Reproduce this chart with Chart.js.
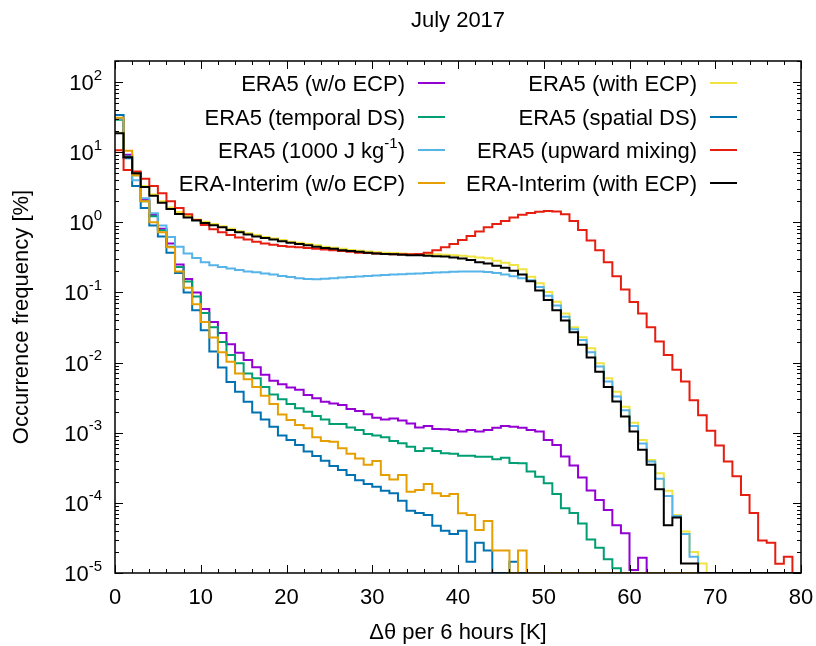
<!DOCTYPE html>
<html>
<head>
<meta charset="utf-8">
<title>July 2017</title>
<script src="https://cdn.jsdelivr.net/npm/chart.js@4.4.1/dist/chart.umd.min.js"></script>
<style>
    html, body { margin: 0; padding: 0; background: #fff; }
    #wrap { width: 816px; height: 646px; }
</style>
</head>
<body>
<div id="wrap"><canvas id="chart" width="816" height="646"></canvas></div>
<script>
// Histogram of potential temperature change, 1 K bins from 0 to 80 K.
const BIN_WIDTH = 1;
const BIN_COUNT = 80;
const binEdges = Array.from({ length: BIN_COUNT + 1 }, (_, i) => i * BIN_WIDTH);

const Y_MIN = 1e-5;
const Y_MAX = 200;
const xTickLabels = ['0', '10', '20', '30', '40', '50', '60', '70', '80'];
const yTickExponents = ['-5', '-4', '-3', '-2', '-1', '0', '1', '2'];

// occurrence frequency [%] per bin, zero where nothing was counted
const era5NoEcp = [
    30, 9.2, 4.8, 2.1, 1.27, 0.81, 0.50, 0.25, 0.156, 0.10,
    0.058, 0.038, 0.0265, 0.0183, 0.0138, 0.0109, 0.0086, 0.0067, 0.0055, 0.0049,
    0.0044, 0.0041, 0.00345, 0.0031, 0.00277, 0.00262, 0.00248, 0.00218, 0.00204, 0.00183,
    0.00164, 0.00155, 0.0016, 0.00149, 0.00136, 0.00119, 0.00125, 0.00113, 0.00112, 0.00109,
    0.00104, 0.00109, 0.00104, 0.00109, 0.00118, 0.00125, 0.00122, 0.00118, 0.00109, 0.00104,
    7.9e-4, 6.7e-4, 4.6e-4, 3.4e-4, 2.3e-4, 1.5e-4, 1.1e-4, 7.9e-5, 4.8e-5, 3.7e-5,
    1.1e-5, 1.65e-5, 0, 0, 0, 0, 0, 0, 0, 0,
    0, 0, 0, 0, 0, 0, 0, 0, 0, 0
];
const era5WithEcp = [
    19, 8.3, 5.0, 3.3, 2.5, 2.0, 1.63, 1.4, 1.23, 1.1,
    1.02, 0.95, 0.88, 0.81, 0.75, 0.70, 0.66, 0.62, 0.59, 0.56,
    0.53, 0.51, 0.49, 0.47, 0.45, 0.435, 0.42, 0.405, 0.395, 0.385,
    0.375, 0.37, 0.365, 0.36, 0.355, 0.355, 0.35, 0.35, 0.345, 0.34,
    0.335, 0.325, 0.315, 0.307, 0.284, 0.265, 0.246, 0.214, 0.168, 0.135,
    0.102, 0.074, 0.050, 0.032, 0.023, 0.016, 0.0098, 0.0060, 0.00385, 0.00235,
    0.00139, 7.9e-4, 4.1e-4, 2.64e-4, 1.49e-4, 6.7e-5, 3.9e-5, 2.0e-5, 1.37e-5, 0,
    0, 0, 0, 0, 0, 0, 0, 0, 0, 0
];
const era5TemporalDs = [
    29, 8.7, 4.7, 2.0, 1.22, 0.77, 0.45, 0.23, 0.144, 0.088,
    0.051, 0.032, 0.0197, 0.0128, 0.0098, 0.0070, 0.0060, 0.0045, 0.0035, 0.0030,
    0.00257, 0.00223, 0.0020, 0.00173, 0.00155, 0.00133, 0.00133, 0.00119, 0.00109, 9.6e-4,
    9.1e-4, 8.6e-4, 7.6e-4, 7.1e-4, 6.3e-4, 5.5e-4, 6.0e-4, 5.5e-4, 5.1e-4, 5.0e-4,
    4.7e-4, 4.7e-4, 4.55e-4, 4.55e-4, 4.2e-4, 4.4e-4, 3.7e-4, 3.66e-4, 2.8e-4, 2.36e-4,
    1.9e-4, 1.34e-4, 8.4e-5, 7.2e-5, 5.1e-5, 3.0e-5, 2.3e-5, 1.57e-5, 1.17e-5, 0,
    0, 0, 0, 0, 0, 0, 0, 0, 0, 0,
    0, 0, 0, 0, 0, 0, 0, 0, 0, 0
];
const era5SpatialDs = [
    34, 8.2, 3.3, 1.6, 0.9, 0.63, 0.37, 0.19, 0.10, 0.056,
    0.029, 0.0144, 0.0085, 0.0053, 0.00385, 0.00277, 0.00195, 0.00155, 0.00122, 9.1e-4,
    7.9e-4, 6.7e-4, 5.4e-4, 4.66e-4, 4.0e-4, 3.36e-4, 2.94e-4, 2.5e-4, 2.1e-4, 1.86e-4,
    1.7e-4, 1.49e-4, 1.37e-4, 1.07e-4, 7.7e-5, 7.2e-5, 6.7e-5, 4.7e-5, 4.0e-5, 3.6e-5,
    4.0e-5, 1.45e-5, 2.7e-5, 2.1e-5, 0, 0, 1.45e-5, 0, 0, 0,
    0, 0, 0, 0, 0, 0, 0, 0, 0, 0,
    0, 0, 0, 0, 0, 0, 0, 0, 0, 0,
    0, 0, 0, 0, 0, 0, 0, 0, 0, 0
];
const era5Cape1000 = [
    30, 8.5, 4.0, 2.2, 1.35, 0.9, 0.62, 0.45, 0.36, 0.31,
    0.27, 0.245, 0.23, 0.22, 0.21, 0.2, 0.195, 0.187, 0.18, 0.172,
    0.166, 0.16, 0.156, 0.155, 0.157, 0.16, 0.163, 0.166, 0.169, 0.172,
    0.175, 0.178, 0.18, 0.182, 0.185, 0.187, 0.19, 0.192, 0.195, 0.197,
    0.2, 0.2, 0.199, 0.196, 0.19, 0.181, 0.17, 0.16, 0.15, 0.12,
    0.09, 0.065, 0.045, 0.03, 0.021, 0.014, 0.0088, 0.0054, 0.0033, 0.0021,
    0.00125, 7.0e-4, 3.9e-4, 2.2e-4, 1.25e-4, 6.5e-5, 3.6e-5, 1.7e-5, 0, 0,
    0, 0, 0, 0, 0, 0, 0, 0, 0, 0
];
const era5UpwardMixing = [
    10.7, 5.6, 5.3, 4.2, 3.3, 2.6, 2.0, 1.6, 1.3, 1.08,
    0.92, 0.8, 0.72, 0.66, 0.61, 0.57, 0.53, 0.5, 0.48, 0.46,
    0.45, 0.44, 0.43, 0.42, 0.41, 0.40, 0.39, 0.38, 0.37, 0.365,
    0.36, 0.355, 0.35, 0.35, 0.35, 0.355, 0.37, 0.40, 0.44, 0.49,
    0.56, 0.64, 0.74, 0.85, 0.95, 1.05, 1.17, 1.28, 1.36, 1.42,
    1.45, 1.43, 1.3, 1.05, 0.78, 0.55, 0.40, 0.27, 0.17, 0.11,
    0.073, 0.050, 0.032, 0.020, 0.0128, 0.0079, 0.0054, 0.0029, 0.00177, 0.00107,
    6.6e-4, 3.9e-4, 2.4e-4, 1.3e-4, 7.2e-5, 2.9e-5, 2.7e-5, 1.35e-5, 1.7e-5, 0
];
const eraInterimNoEcp = [
    31, 10.5, 4.7, 2.0, 1.0, 0.72, 0.44, 0.2, 0.117, 0.068,
    0.038, 0.0229, 0.0141, 0.0103, 0.0070, 0.0058, 0.0045, 0.00337, 0.00257, 0.00182,
    0.00152, 0.00129, 0.00116, 8.6e-4, 7.6e-4, 7.45e-4, 6.0e-4, 5.0e-4, 4.3e-4, 3.5e-4,
    3.95e-4, 2.5e-4, 2.16e-4, 2.5e-4, 1.44e-4, 1.52e-4, 1.86e-4, 1.37e-4, 1.25e-4, 1.34e-4,
    7.1e-5, 6.7e-5, 4.1e-5, 5.5e-5, 2.1e-5, 2.1e-5, 0, 2.1e-5, 0, 0,
    0, 0, 0, 0, 0, 0, 0, 0, 0, 0,
    0, 0, 0, 0, 0, 0, 0, 0, 0, 0,
    0, 0, 0, 0, 0, 0, 0, 0, 0, 0
];
const eraInterimWithEcp = [
    18.7, 8.5, 5.0, 3.2, 2.4, 1.9, 1.55, 1.32, 1.17, 1.06,
    0.98, 0.91, 0.85, 0.78, 0.72, 0.67, 0.63, 0.6, 0.57, 0.54,
    0.51, 0.49, 0.47, 0.45, 0.43, 0.42, 0.40, 0.39, 0.38, 0.37,
    0.36, 0.355, 0.35, 0.345, 0.34, 0.34, 0.335, 0.33, 0.325, 0.315,
    0.305, 0.29, 0.27, 0.26, 0.24, 0.225, 0.205, 0.18, 0.145, 0.107,
    0.078, 0.056, 0.040, 0.027, 0.018, 0.0118, 0.0074, 0.0045, 0.0028, 0.0017,
    0.00104, 5.7e-4, 3.5e-4, 1.56e-4, 4.8e-5, 6.2e-5, 1.37e-5, 1.37e-5, 0, 0,
    0, 0, 0, 0, 0, 0, 0, 0, 0, 0
];

// plot order = key order (two columns, filled row by row)
const seriesLabels = [
    'ERA5 (w/o ECP)', 'ERA5 (with ECP)',
    'ERA5 (temporal DS)', 'ERA5 (spatial DS)',
    'ERA5 (1000 J kg^{-1})', 'ERA5 (upward mixing)',
    'ERA-Interim (w/o ECP)', 'ERA-Interim (with ECP)'
];
const seriesValues = [
    era5NoEcp, era5WithEcp,
    era5TemporalDs, era5SpatialDs,
    era5Cape1000, era5UpwardMixing,
    eraInterimNoEcp, eraInterimWithEcp
];
const seriesColors = [
    '#9400D3', '#F0E442',
    '#009E73', '#0072B2',
    '#56B4E9', '#E51E10',
    '#E69F00', '#000000'
];

const FONT_FAMILY = '"Liberation Sans", Arial, Helvetica, sans-serif';
const MAIN_FONT = `22px ${FONT_FAMILY}`;
const EXP_FONT = `15px ${FONT_FAMILY}`;

function stepPoints(values) {
    const points = values.map((v, i) => ({ x: binEdges[i], y: Math.max(v, Y_MIN) }));
    points.push({ x: binEdges[values.length], y: Math.max(values[values.length - 1], Y_MIN) });
    return points;
}

const datasets = seriesValues.map((values, i) => ({
    label: seriesLabels[i].replace(/\^\{([^}]*)\}/g, '$1'),
    data: stepPoints(values),
    borderColor: seriesColors[i],
    backgroundColor: seriesColors[i],
    borderWidth: 2,
    stepped: 'before',
    pointRadius: 0,
    fill: false,
    order: seriesValues.length - i,
}));

// draws "text^{sup}" with the right end at xRight
function drawRichText(ctx, text, xRight, yMiddle) {
    const parts = text.split(/\^\{([^}]*)\}/);
    let total = 0;
    parts.forEach((part, i) => {
        ctx.font = i % 2 ? EXP_FONT : MAIN_FONT;
        total += ctx.measureText(part).width;
    });
    let x = xRight - total;
    ctx.textAlign = 'left';
    ctx.textBaseline = 'alphabetic';
    parts.forEach((part, i) => {
        const isSup = i % 2 === 1;
        ctx.font = isSup ? EXP_FONT : MAIN_FONT;
        ctx.fillText(part, x, isSup ? yMiddle - 2.5 : yMiddle + 8);
        x += ctx.measureText(part).width;
    });
}

const gnuplotFrame = {
    id: 'gnuplotFrame',
    afterDatasetsDraw(chart) {
        const { ctx, chartArea: area, scales } = chart;
        const xScale = scales.x;
        const yScale = scales.y;
        ctx.save();
        ctx.strokeStyle = '#000';
        ctx.fillStyle = '#000';

        // inward ticks, mirrored on all sides
        ctx.lineWidth = 1;
        ctx.beginPath();
        for (let v = 0; v <= 80; v += 2) {
            const px = Math.round(xScale.getPixelForValue(v)) + 0.5;
            const len = v % 10 === 0 ? 8 : 4;
            ctx.moveTo(px, area.bottom);
            ctx.lineTo(px, area.bottom - len);
            ctx.moveTo(px, area.top);
            ctx.lineTo(px, area.top + len);
        }
        for (let e = -5; e <= 2; e++) {
            for (let m = 1; m <= 9; m++) {
                const value = m * Math.pow(10, e);
                if (value > Y_MAX) break;
                const py = Math.round(yScale.getPixelForValue(value)) + 0.5;
                const len = m === 1 ? 8 : 4;
                ctx.moveTo(area.left, py);
                ctx.lineTo(area.left + len, py);
                ctx.moveTo(area.right, py);
                ctx.lineTo(area.right - len, py);
            }
        }
        ctx.stroke();

        ctx.lineWidth = 1.5;
        ctx.strokeRect(area.left, area.top, area.right - area.left, area.bottom - area.top);

        // x tick labels
        ctx.font = MAIN_FONT;
        ctx.textAlign = 'center';
        ctx.textBaseline = 'middle';
        xTickLabels.forEach((label) => {
            ctx.fillText(label, xScale.getPixelForValue(Number(label)), area.bottom + 25);
        });

        // y tick labels as powers of ten
        yTickExponents.forEach((exp) => {
            const py = yScale.getPixelForValue(Math.pow(10, Number(exp)));
            drawRichText(ctx, `10^{${exp}}`, area.left - 13, py);
        });

        // titles
        const midX = (area.left + area.right) / 2;
        ctx.font = MAIN_FONT;
        ctx.textAlign = 'center';
        ctx.textBaseline = 'middle';
        ctx.fillText('July 2017', midX, 21);
        ctx.fillText('\u0394\u03B8 per 6 hours [K]', midX, 633);
        ctx.save();
        ctx.translate(22, (area.top + area.bottom) / 2);
        ctx.rotate(-Math.PI / 2);
        ctx.fillText('Occurrence frequency [%]', 0, 0);
        ctx.restore();

        // key: two columns, text right aligned, sample to the right
        const columnTextRight = [405, 697];
        const rowMiddle = [83, 117, 150, 183];
        seriesLabels.forEach((label, i) => {
            const col = i % 2;
            const row = Math.floor(i / 2);
            const y = rowMiddle[row];
            ctx.fillStyle = '#000';
            drawRichText(ctx, label, columnTextRight[col], y);
            ctx.strokeStyle = seriesColors[i];
            ctx.lineWidth = 2;
            ctx.beginPath();
            ctx.moveTo(columnTextRight[col] + 13, y);
            ctx.lineTo(columnTextRight[col] + 40, y);
            ctx.stroke();
        });

        ctx.restore();
    }
};

new Chart(document.getElementById('chart'), {
    type: 'line',
    data: { datasets },
    options: {
        responsive: false,
        animation: false,
        layout: { padding: { left: 115, right: 15, top: 61, bottom: 73 } },
        plugins: {
            legend: { display: false },
            tooltip: { enabled: false },
            title: { display: false },
        },
        scales: {
            x: { type: 'linear', min: 0, max: 80, display: false },
            y: { type: 'logarithmic', min: Y_MIN, max: Y_MAX, display: false },
        },
    },
    plugins: [gnuplotFrame],
});
</script>
</body>
</html>
